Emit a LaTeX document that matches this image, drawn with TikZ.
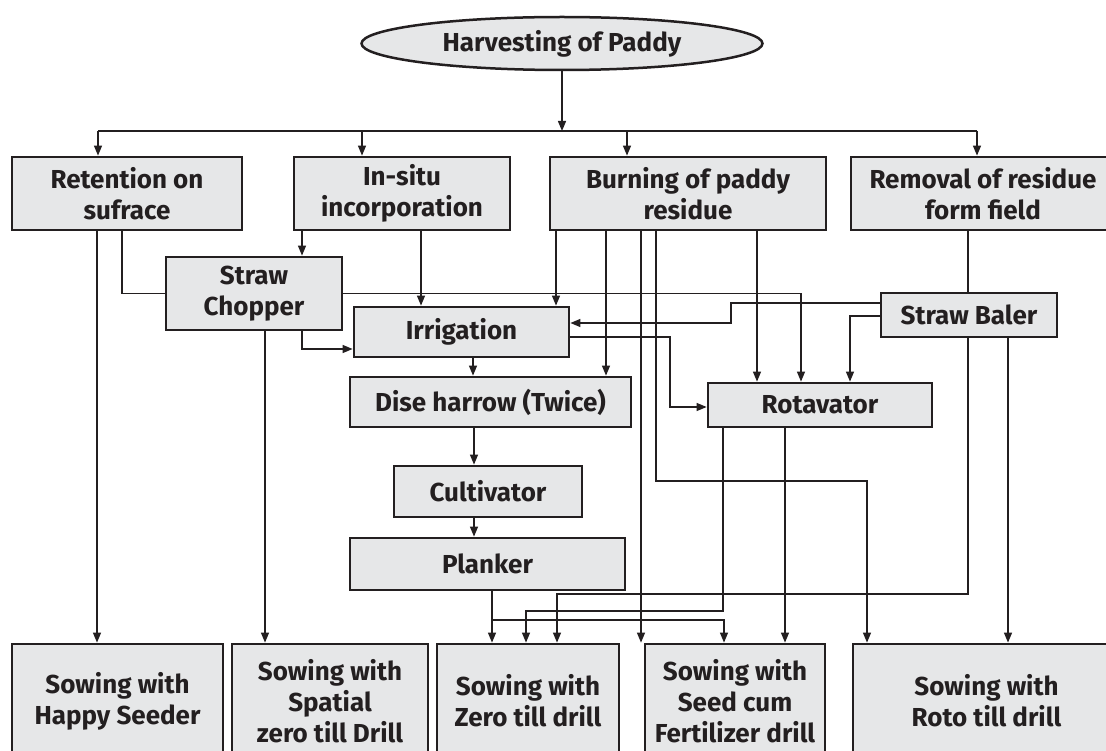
\documentclass[tikz,border=0pt]{standalone}
\usepackage{fontspec}
\setmainfont{Fira Sans}
\usetikzlibrary{arrows.meta,shapes.geometric}
\definecolor{boxfill}{HTML}{E6E7E8}
\definecolor{ink}{HTML}{231F20}
\begin{document}
\begin{tikzpicture}[x=1pt,y=-1pt,
  box/.style={draw=ink, line width=2.8pt, fill=boxfill, align=center,
    font=\fontsize{26}{31}\selectfont\bfseries, text=ink, inner sep=0pt},
  sz/.style 2 args={minimum width=#1pt, minimum height=#2pt},
  arr/.style={draw=ink, line width=1.3pt, -{Triangle[length=10pt,width=8pt]}},
  ln/.style={draw=ink, line width=1.3pt},
]
\useasboundingbox (0,0) rectangle (1106,751);
\fill[white] (0,0) rectangle (1106,751);

% helper coordinates
\foreach \v in {97,98,122,265,302,362,421,473,474,492,526,556,557,562,606,627,641,656,670,723,724,731,757,785,801,850,867,968,977,1008}
  \coordinate (v\v) at (\v,0);
\foreach \h in {131,303,316,323,337,349,407,481,594,611,620}
  \coordinate (h\h) at (0,\h);

% nodes
\node[ellipse, draw=ink, line width=2.5pt, fill=boxfill, minimum width=401pt, minimum height=53pt,
  font=\fontsize{26}{31}\selectfont\bfseries, text=ink, inner sep=0pt] (ell) at (562,43.5) {Harvesting of Paddy};

\node[box, sz={230}{73}] (ret) at (127,193.5) {Retention on\\sufrace};
\node[box, sz={216}{73}] (ins) at (402,193.5) {In-situ\\incorporation};
\node[box, sz={276}{73}] (bur) at (688,193.5) {Burning of paddy\\residue};
\node[box, sz={264}{73}] (rem) at (983,193.5) {Removal of residue\\form field};

\node[box, sz={176}{73}] (chop) at (254,293.5) {Straw\\Chopper};
\node[box, sz={215}{50}] (irr) at (461.5,332) {Irrigation};
\node[box, sz={281}{50}] (dise) at (490.5,402) {Dise harrow (Twice)};
\node[box, sz={188}{51}] (cult) at (488,491.5) {Cultivator};
\node[box, sz={275}{52}] (plank) at (487.5,564) {Planker};
\node[box, sz={224}{44}] (rota) at (820,405) {Rotavator};
\node[box, sz={176}{44}] (bal) at (969,315) {Straw Baler};

\node[box, sz={211}{114}] (hap) at (117.5,701) {Sowing with\\Happy Seeder};
\node[box, sz={196}{114}] (spa) at (330,701) {Sowing with\\Spatial\\zero till Drill};
\node[box, sz={182}{114}] (zer) at (528,701) {Sowing with\\Zero till drill};
\node[box, sz={180}{114}] (see) at (735,701) {Sowing with\\Seed cum\\Fertilizer drill};
\node[box, sz={267}{114}] (rot) at (986.5,701) {Sowing with\\Roto till drill};

% trunk and bus
\draw[arr] (ell.south) -- (v562 |- h131);
\draw[ln] (v98 |- h131) -- (v977 |- h131);
\draw[arr] (v98 |- h131) -- (v98 |- ret.north);
\draw[arr] (v362 |- h131) -- (v362 |- ins.north);
\draw[arr] (v627 |- h131) -- (v627 |- bur.north);
\draw[arr] (v977 |- h131) -- (v977 |- rem.north);

% retention
\draw[arr] (v97 |- ret.south) -- (v97 |- hap.north);
\draw[ln] (v122 |- ret.south) |- (chop.west);

% in-situ
\draw[arr] (v302 |- ins.south) -- (v302 |- chop.north);
\draw[arr] (v421 |- ins.south) -- (v421 |- irr.north);

% burning
\draw[arr] (v556 |- bur.south) -- (v556 |- irr.north);
\draw[arr] (v606 |- bur.south) -- (v606 |- dise.north);
\draw[arr] (v641 |- bur.south) -- (v641 |- see.north);
\draw[arr] (v656 |- bur.south) |- (v867 |- h481) -- (v867 |- rot.north);
\draw[arr] (v757 |- bur.south) -- (v757 |- rota.north);

% removal
\draw[ln] (v968 |- rem.south) -- (v968 |- bal.north);

% chopper
\draw[arr] (chop.east) -| (v801 |- rota.north);
\draw[arr] (v265 |- chop.south) -- (v265 |- spa.north);
\draw[arr] (v302 |- chop.south) |- (irr.west |- h349);

% irrigation
\draw[arr] (v473 |- irr.south) -- (v473 |- dise.north);
\draw[arr] (irr.east |- h337) -| (v670 |- h407) -- (rota.west |- h407);

% baler
\draw[arr] (bal.west |- h303) -| (v731 |- h323) -- (irr.east |- h323);
\draw[arr] (bal.west |- h316) -| (v850 |- rota.north);
\draw[arr] (v968 |- bal.south) |- (v557 |- h594) -- (v557 |- zer.north);
\draw[arr] (v1008 |- bal.south) -- (v1008 |- rot.north);

% dise, cultivator, planker
\draw[arr] (v474 |- dise.south) -- (v474 |- cult.north);
\draw[arr] (v474 |- cult.south) -- (v474 |- plank.north);
\draw[arr] (v492 |- plank.south) -- (v492 |- zer.north);
\draw[arr] (v492 |- h620) -| (v724 |- see.north);

% rotavator
\draw[arr] (v723 |- rota.south) |- (v526 |- h611) -- (v526 |- zer.north);
\draw[arr] (v785 |- rota.south) -- (v785 |- see.north);
\end{tikzpicture}
\end{document}
